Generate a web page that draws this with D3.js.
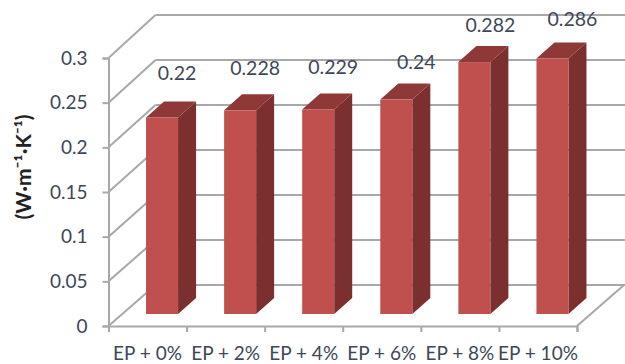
<!DOCTYPE html>
<html>
<head>
<meta charset="utf-8">
<script src="https://cdn.jsdelivr.net/npm/d3@7/dist/d3.min.js"></script>
<style>
  html, body { margin: 0; padding: 0; background: #fff; }
  svg { display: block; }
  text { font-family: Lato, sans-serif; fill: #3d4757; }
</style>
</head>
<body>
<svg id="chart" width="625" height="364"></svg>
<script>
// Thermal conductivity of epoxy composites by filler loading
const categories = ["EP + 0%", "EP + 2%", "EP + 4%", "EP + 6%", "EP + 8%", "EP + 10%"];
const conductivity = [0.22, 0.228, 0.229, 0.24, 0.282, 0.286];
const yTicks = [0, 0.05, 0.1, 0.15, 0.2, 0.25, 0.3];
const yTitle = "(W·m⁻¹·K⁻¹)";

const width = 625, height = 364;
const svg = d3.select("#chart");

// Front plane of the box
const plotLeft = 108.5, plotRight = 577;
const yFront = d3.scaleLinear().domain([0, 0.3]).range([326, 58]);
// Back wall is the front plane shifted along the depth direction
const yBack = d3.scaleLinear().domain([0, 0.3]).range([285, 15]);
const depthX = 47;
// Columns stand on a plane part of the way into the box
const yBar = d3.scaleLinear().domain([0, 0.3]).range([314, 46]);
const barShiftX = 14.5;
const barDepthX = 18, barDepthY = 16;

const xBand = d3.scaleBand().domain(categories).range([plotLeft, plotRight])
  .paddingInner(0.59).paddingOuter(0.295);
const xEdge = d3.scaleLinear().domain([0, categories.length]).range([plotLeft, plotRight]);

const gridColor = "#a8a8a8";

// Back wall gridlines and the left wall diagonals
const grid = svg.append("g").attr("fill", "none").attr("stroke", gridColor).attr("stroke-width", 2);
grid.selectAll("line.back").data(yTicks).join("line").attr("class", "back")
  .attr("x1", plotLeft + depthX).attr("x2", width)
  .attr("y1", d => yBack(d)).attr("y2", d => yBack(d));
grid.selectAll("line.side").data(yTicks).join("line").attr("class", "side")
  .attr("x1", plotLeft).attr("x2", plotLeft + depthX)
  .attr("y1", d => yFront(d)).attr("y2", d => yBack(d));
// Right edge of the floor
grid.append("line")
  .attr("x1", plotRight).attr("x2", plotRight + depthX)
  .attr("y1", yFront(0)).attr("y2", yBack(0));

// Axes on the front plane
const yAxis = svg.append("g").attr("transform", `translate(${plotLeft},0)`)
  .call(d3.axisLeft(yFront).tickValues(yTicks).tickSize(6).tickPadding(15).tickFormat(d => String(d)));
const xAxis = svg.append("g").attr("transform", `translate(0,${yFront(0)})`)
  .call(d3.axisBottom(xEdge).tickValues(d3.range(categories.length + 1)).tickSize(6).tickFormat(""));
for (const axis of [yAxis, xAxis]) {
  axis.selectAll(".domain").attr("stroke", gridColor).attr("stroke-width", 2);
  axis.selectAll(".tick line").attr("stroke", gridColor).attr("stroke-width", 2);
}
yAxis.selectAll("text").attr("font-size", 19).style("font-family", "Lato, sans-serif").style("fill", "#3d4757");

// Category labels centred under each band
svg.append("g").selectAll("text").data(categories).join("text")
  .attr("x", d => xBand(d) + xBand.bandwidth() / 2)
  .attr("y", 359.5)
  .attr("text-anchor", "middle")
  .attr("font-size", 19)
  .text(d => d);

// Extruded columns
const rows = categories.map((c, i) => ({ c, v: conductivity[i], i }));
const bars = svg.append("g").selectAll("g").data(rows).join("g");
const left = d => xBand(d.c) + barShiftX;
const right = d => left(d) + xBand.bandwidth();
const pts = a => a.map(p => p.join(",")).join(" ");

bars.append("polygon").attr("fill", "#7b2f2f")
  .attr("points", d => pts([
    [right(d), yBar(d.v)],
    [right(d) + barDepthX, yBar(d.v) - barDepthY],
    [right(d) + barDepthX, yBar(0) - barDepthY],
    [right(d), yBar(0)]
  ]));
bars.append("polygon").attr("fill", "#8e3837")
  .attr("points", d => pts([
    [left(d), yBar(d.v)],
    [left(d) + barDepthX, yBar(d.v) - barDepthY],
    [right(d) + barDepthX, yBar(d.v) - barDepthY],
    [right(d), yBar(d.v)]
  ]));
bars.append("rect").attr("fill", "#c0504d")
  .attr("x", left)
  .attr("y", d => yBar(d.v))
  .attr("width", xBand.bandwidth())
  .attr("height", d => yBar(0) - yBar(d.v));

// Value labels, each hand-placed a little differently above its column
const labelNudgeX = [0, 0, 0, 5, 1, 5];
const labelNudgeY = [-4, -2, -2, 2, 3, 0];
bars.append("text")
  .attr("x", d => left(d) + xBand.bandwidth() / 2 + 15 + labelNudgeX[d.i])
  .attr("y", d => yBar(d.v) - 33 + labelNudgeY[d.i])
  .attr("text-anchor", "middle")
  .attr("font-size", 19.5)
  .text(d => d.v);

// Rotated unit title
svg.append("text")
  .attr("transform", "translate(31,167) rotate(-90)")
  .attr("text-anchor", "middle")
  .attr("font-size", 21)
  .attr("font-weight", "bold")
  .style("fill", "#222")
  .text(yTitle);
</script>
</body>
</html>
